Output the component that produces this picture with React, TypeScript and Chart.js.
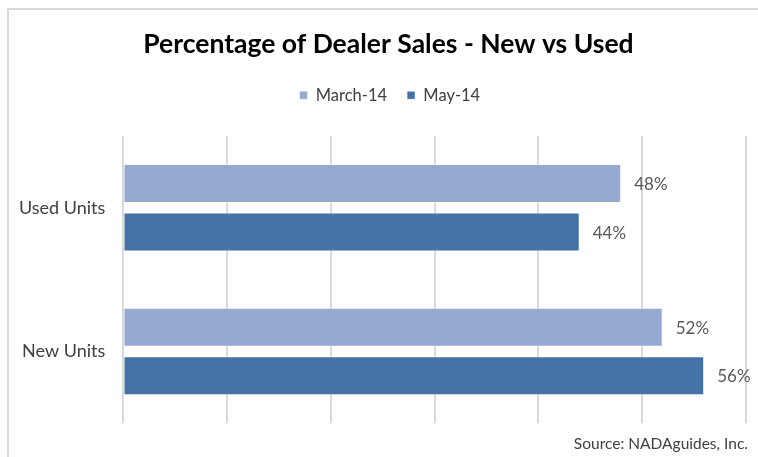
import React, { useEffect, useRef } from "react";
import { Chart, registerables } from "chart.js";

Chart.register(...registerables);

const categories = ["Used Units", "New Units"];
const seriesNames = ["March-14", "May-14"];
const march14 = [48, 52];
const may14 = [44, 56];
const xTicks = [0, 10, 20, 30, 40, 50, 60];
const titleText = "Percentage of Dealer Sales - New vs Used";
const sourceText = "Source: NADAguides, Inc.";

const FONT = "Lato, 'Open Sans', sans-serif";

const dataLabelPlugin = {
  id: "dataLabels",
  afterDatasetsDraw(chart: any) {
    const ctx = chart.ctx;
    ctx.save();
    ctx.font = `17px ${FONT}`;
    ctx.fillStyle = "#595959";
    ctx.textAlign = "left";
    ctx.textBaseline = "middle";
    chart.data.datasets.forEach((ds: any, i: number) => {
      const meta = chart.getDatasetMeta(i);
      meta.data.forEach((bar: any, j: number) => {
        ctx.fillText(ds.data[j] + "%", bar.x + 13, bar.y + 1);
      });
    });
    ctx.restore();
  },
};

const sourcePlugin = {
  id: "sourceNote",
  afterDraw(chart: any) {
    const ctx = chart.ctx;
    ctx.save();
    ctx.font = `15.5px ${FONT}`;
    ctx.fillStyle = "#404040";
    ctx.textAlign = "right";
    ctx.textBaseline = "middle";
    ctx.fillText(sourceText, chart.width - 10, chart.height - 13);
    ctx.restore();
  },
};

// The original chart box is wider than the visible crop, so its title and
// legend are centred a little to the right of the canvas centre.
const headerShiftPlugin = {
  id: "headerShift",
  afterLayout(chart: any) {
    if (chart.titleBlock) {
      chart.titleBlock.left += 15.6;
      chart.titleBlock.right += 15.6;
    }
    if (chart.legend) {
      chart.legend.left += 17;
      chart.legend.right += 17;
    }
  },
};

export default function App() {
  const ref = useRef<HTMLCanvasElement | null>(null);

  useEffect(() => {
    if (!ref.current) return;
    const chart = new Chart(ref.current, {
      type: "bar",
      data: {
        labels: categories,
        datasets: [
          {
            label: seriesNames[0],
            data: march14,
            backgroundColor: "#95A9D1",
            borderColor: "rgba(255,255,255,0.5)",
            borderWidth: 1,
            categoryPercentage: 0.675,
            barPercentage: 0.806,
          },
          {
            label: seriesNames[1],
            data: may14,
            backgroundColor: "#4472A7",
            borderColor: "rgba(255,255,255,0.5)",
            borderWidth: 1,
            categoryPercentage: 0.675,
            barPercentage: 0.806,
          },
        ],
      },
      options: {
        indexAxis: "y",
        animation: false,
        responsive: true,
        maintainAspectRatio: false,
        layout: { padding: { left: 0, right: 12.3, top: 0, bottom: 33.7 } },
        plugins: {
          title: {
            display: true,
            text: titleText,
            color: "#000000",
            font: { family: FONT, size: 26.5, weight: "bold", lineHeight: 1.2 },
            padding: { top: 28.1, bottom: 7.1 },
          },
          legend: {
            display: true,
            position: "top",
            labels: {
              color: "#404040",
              font: { family: FONT, size: 16.5 },
              boxWidth: 8,
              boxHeight: 8,
              padding: 20,
            },
          },
          tooltip: { enabled: false },
        },
        scales: {
          x: {
            position: "top",
            min: 0,
            max: 60,
            afterBuildTicks: (scale: any) => {
              scale.ticks = xTicks.map((v) => ({ value: v }));
            },
            ticks: { display: false },
            grid: { color: "#d9d9d9", lineWidth: 2, drawTicks: false },
            border: { display: false },
            afterFit: (scale: any) => {
              scale.height = 22.5;
            },
          },
          y: {
            ticks: {
              color: "#404040",
              font: { family: FONT, size: 18 },
              padding: 18,
            },
            grid: { display: false, drawTicks: false },
            border: { display: false },
            afterFit: (scale: any) => {
              scale.width = 123.3;
            },
          },
        },
      },
      plugins: [headerShiftPlugin, dataLabelPlugin, sourcePlugin],
    });
    return () => chart.destroy();
  }, []);

  return (
    <div
      style={{
        position: "fixed",
        left: 0,
        top: 0,
        width: 758,
        height: 457,
        overflow: "hidden",
        background: "#ffffff",
      }}
    >
      <div
        style={{
          position: "absolute",
          left: 7,
          top: 8,
          width: 800,
          height: 500,
          borderTop: "2px solid #d9d9d9",
          borderLeft: "2px solid #d9d9d9",
        }}
      />
      <div style={{ position: "absolute", left: 0, top: 0, width: 758, height: 457 }}>
        <canvas ref={ref} />
      </div>
    </div>
  );
}
